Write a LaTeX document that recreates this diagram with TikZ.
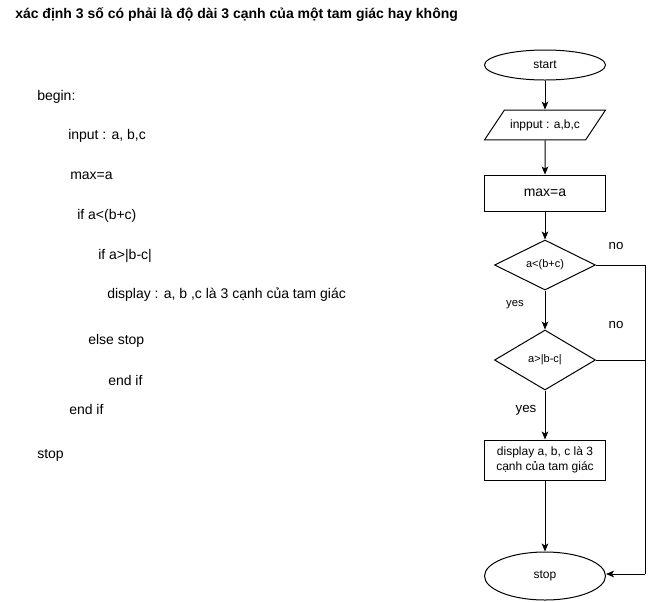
\documentclass[tikz,border=0pt]{standalone}
\usepackage{fontspec}
\setmainfont{Liberation Sans}
\usetikzlibrary{shapes.geometric,arrows.meta}
\tikzset{
  line/.style={line width=0.75pt},
  arr/.style={line, -{Stealth[length=6pt,width=5pt,inset=1.5pt]}},
  code/.style={anchor=west, inner sep=0pt, font=\fontsize{10.5pt}{12pt}\selectfont},
  lbl/.style={inner sep=0pt},
  term/.style={ellipse, draw, line, minimum width=90.75pt, inner sep=0pt,
    font=\fontsize{9pt}{11pt}\selectfont},
  io/.style={trapezium, trapezium left angle=56.3, trapezium right angle=123.7,
    trapezium stretches body=true, draw, line, minimum width=90.75pt,
    inner xsep=0pt, inner ysep=7pt, font=\fontsize{9pt}{11pt}\selectfont},
  proc/.style={rectangle, draw, line, minimum width=90.75pt, inner sep=0pt, align=center},
  decide/.style={diamond, draw, line, minimum width=75.75pt, inner sep=0pt,
    font=\fontsize{8.25pt}{10pt}\selectfont}
}
\begin{document}
\begin{tikzpicture}[x=0.75pt,y=-0.75pt]
%\draw[help lines] (0,0) grid (654,601);
\useasboundingbox (0,0) rectangle (654,601);
\node[code, font=\bfseries\fontsize{10.5pt}{12pt}\selectfont] (title) at (15,15)
  {xác định 3 số có phải là độ dài 3 cạnh của một tam giác hay không};
% pseudocode
\node[code] (lbegin) at (37,97) {begin:};
\node[code] (linput) at (68,136) {input : a, b,c};
\node[code] (lmax) at (70,176) {max=a};
\node[code] (lif1) at (77,216) {if a<(b+c)};
\node[code] (lif2) at (98,256) {if a>|b-c|};
\node[code] (ldisp) at (107,295) {display : a, b ,c là 3 cạnh của tam giác};
\node[code] (lelse) at (88,341) {else stop};
\node[code] (lend2) at (108,380) {end if};
\node[code] (lend1) at (69,409) {end if};
\node[code] (lstop) at (37,455) {stop};
% flowchart
\node[term, minimum height=22.5pt] (start) at (545,65) {start};
\node[io] (inp) at (545,125) {inpput : a,b,c};
\node[proc, minimum height=27pt, font=\fontsize{10.5pt}{12pt}\selectfont] (maxa) at (545,193) {max=a};
\node[decide, minimum height=37.5pt] (dec1) at (545,265) {a<(b+c)};
\node[decide, minimum height=45pt] (dec2) at (545,360) {a>|b-c|};
\node[proc, minimum height=30pt, font=\fontsize{9pt}{11pt}\selectfont] (disp) at (545,460)
  {display a, b, c là 3\\cạnh của tam giác};
\node[term, minimum height=36pt] (stop) at (545,576) {stop};
\coordinate (rgt) at (645,574);
\node[lbl, font=\fontsize{10pt}{12pt}\selectfont] (no1) at (616,246) {no};
\node[lbl, font=\fontsize{10pt}{12pt}\selectfont] (no2) at (616,325) {no};
\node[lbl, font=\fontsize{8.5pt}{10pt}\selectfont] (yes1) at (515,305) {yes};
\node[lbl, font=\fontsize{10pt}{12pt}\selectfont] (yes2) at (526,410) {yes};
\draw[arr] (start) -- (inp);
\draw[arr] (inp) -- (maxa);
\draw[arr] (maxa) -- (dec1);
\draw[arr] (dec1) -- (dec2);
\draw[arr] (dec2) -- (disp);
\draw[arr] (disp) -- (stop);
\draw[line] (dec1.east) -| (rgt);
\draw[line] (dec2.east) -- (dec2.east -| rgt);
\draw[arr] (rgt) -- (stop.east |- rgt);
\end{tikzpicture}
\end{document}
